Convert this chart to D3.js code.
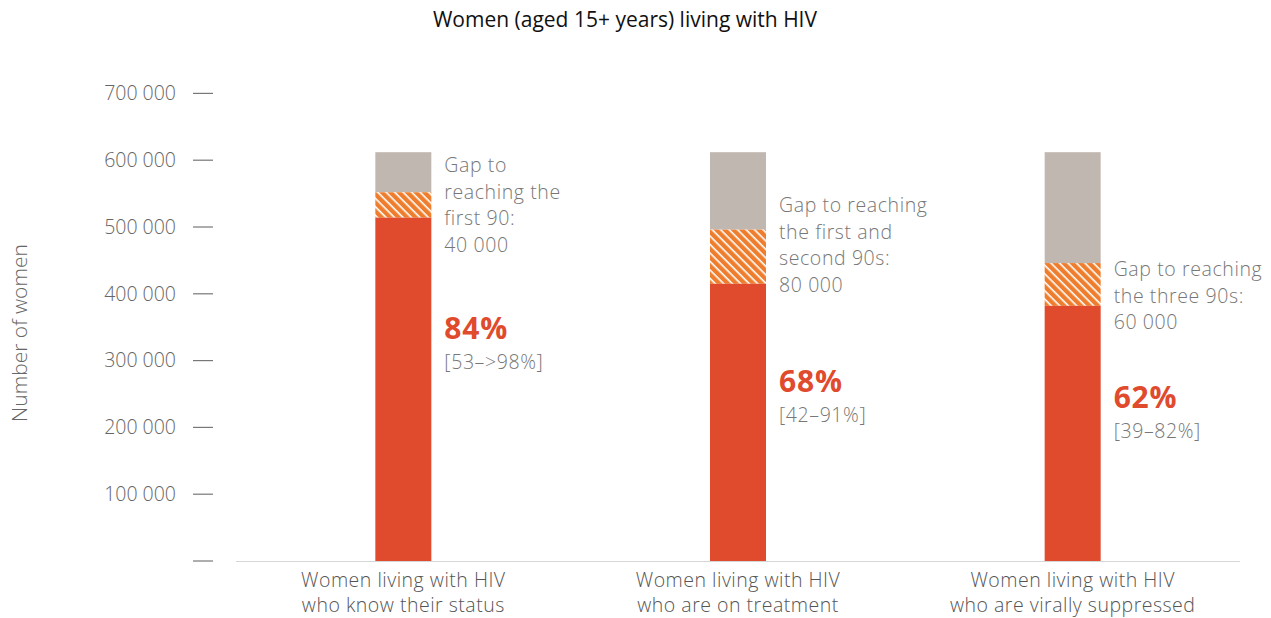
<!DOCTYPE html>
<html><head><meta charset="utf-8">
<script src="https://cdn.jsdelivr.net/npm/d3@7"></script>
<style>body{margin:0;background:#fff}svg{display:block}text{font-family:"Open Sans",Lato,sans-serif}</style>
</head><body><svg id="c" width="1271" height="618"></svg>
<script>
const categories = [["Women living with HIV","who know their status"],["Women living with HIV","who are on treatment"],["Women living with HIV","who are virally suppressed"]];
const achieved = [514000, 415000, 382000];
const gap = [38000, 81000, 64000];
const total = [612000, 612000, 612000];
const percentLabels = ["84%","68%","62%"];
const rangeLabels = ["[53–>98%]","[42–91%]","[39–82%]"];
const gapLabels = [["Gap to","reaching the","first 90:","40 000"],["Gap to reaching","the first and","second 90s:","80 000"],["Gap to reaching","the three 90s:","60 000"]];
const yTicks = [0,100000,200000,300000,400000,500000,600000,700000];
// label layout (pixel y of first gap line, y of percent)
const gapTextY = [165, 205, 269];
const pctY = [328, 381, 397];

const svg = d3.select("#c");
const y = d3.scaleLinear().domain([0,700000]).range([561,93.4]);
const x = d3.scalePoint().domain(d3.range(3)).range([236,1240]).padding(0.5);
const bw = 56;
const loc = d3.formatLocale({decimal:".",thousands:" ",grouping:[3],currency:["",""]});
const fmt = loc.format(",");

const defs = svg.append("defs");
const pat = defs.append("pattern").attr("id","hatch").attr("patternUnits","userSpaceOnUse")
  .attr("width",6).attr("height",6).attr("patternTransform","rotate(45)");
pat.append("rect").attr("width",6).attr("height",6).attr("fill","#EE7E2E");
pat.append("rect").attr("x",0).attr("y",0).attr("width",6).attr("height",1.6).attr("fill","#fff");

svg.append("text").attr("x",625).attr("y",20).attr("dy","0.35em").attr("text-anchor","middle")
  .attr("font-size",21).attr("fill","#111").text("Women (aged 15+ years) living with HIV");

// y axis
const ya = svg.append("g");
yTicks.forEach(t=>{
  ya.append("line").attr("x1",193).attr("x2",213).attr("y1",y(t)).attr("y2",y(t)).attr("stroke","#777").attr("stroke-width",1.2);
  ya.append("text").attr("x",176).attr("y",y(t)).attr("dy","0.35em").attr("text-anchor","end")
    .attr("font-size",19.5).attr("font-weight",300).attr("fill","#666").text(t===0?"":fmt(t));
});
svg.append("text").attr("transform","translate(20,333) rotate(-90)").attr("dy","0.35em").attr("text-anchor","middle")
  .attr("font-size",21).attr("font-weight",300).attr("fill","#666").text("Number of women");

svg.append("line").attr("x1",236).attr("x2",1240).attr("y1",561.5).attr("y2",561.5).attr("stroke","#d6d6d6").attr("stroke-width",1.2);

const g = svg.append("g");
d3.range(3).forEach(i=>{
  const cx = x(i);
  g.append("rect").attr("x",cx-bw/2).attr("width",bw).attr("y",y(total[i])).attr("height",y(achieved[i]+gap[i])-y(total[i])).attr("fill","#C0B7B1");
  g.append("rect").attr("x",cx-bw/2).attr("width",bw).attr("y",y(achieved[i]+gap[i])).attr("height",y(achieved[i])-y(achieved[i]+gap[i])).attr("fill","url(#hatch)");
  g.append("rect").attr("x",cx-bw/2).attr("width",bw).attr("y",y(achieved[i])).attr("height",y(0)-y(achieved[i])).attr("fill","#E04A2D");
  const tx = cx + bw/2 + 13;
  gapLabels[i].forEach((l,j)=>{
    g.append("text").attr("x",tx).attr("y",gapTextY[i]+j*26.7).attr("dy","0.35em")
      .attr("font-size",19.5).attr("letter-spacing",0.6).attr("font-weight",300).attr("fill","#777").text(l);
  });
  g.append("text").attr("x",tx).attr("y",pctY[i]).attr("dy","0.35em").attr("font-size",30).attr("letter-spacing",0.8).attr("font-weight",700).attr("fill","#E04A2D").text(percentLabels[i]);
  g.append("text").attr("x",tx).attr("y",pctY[i]+34).attr("dy","0.35em").attr("font-size",19.5).attr("letter-spacing",0.6).attr("font-weight",300).attr("fill","#777").text(rangeLabels[i]);
  categories[i].forEach((l,j)=>{
    g.append("text").attr("x",cx).attr("y",580+j*25).attr("dy","0.35em").attr("text-anchor","middle")
      .attr("font-size",19.5).attr("letter-spacing",0.5).attr("font-weight",300).attr("fill","#555").text(l);
  });
});
</script></body></html>
